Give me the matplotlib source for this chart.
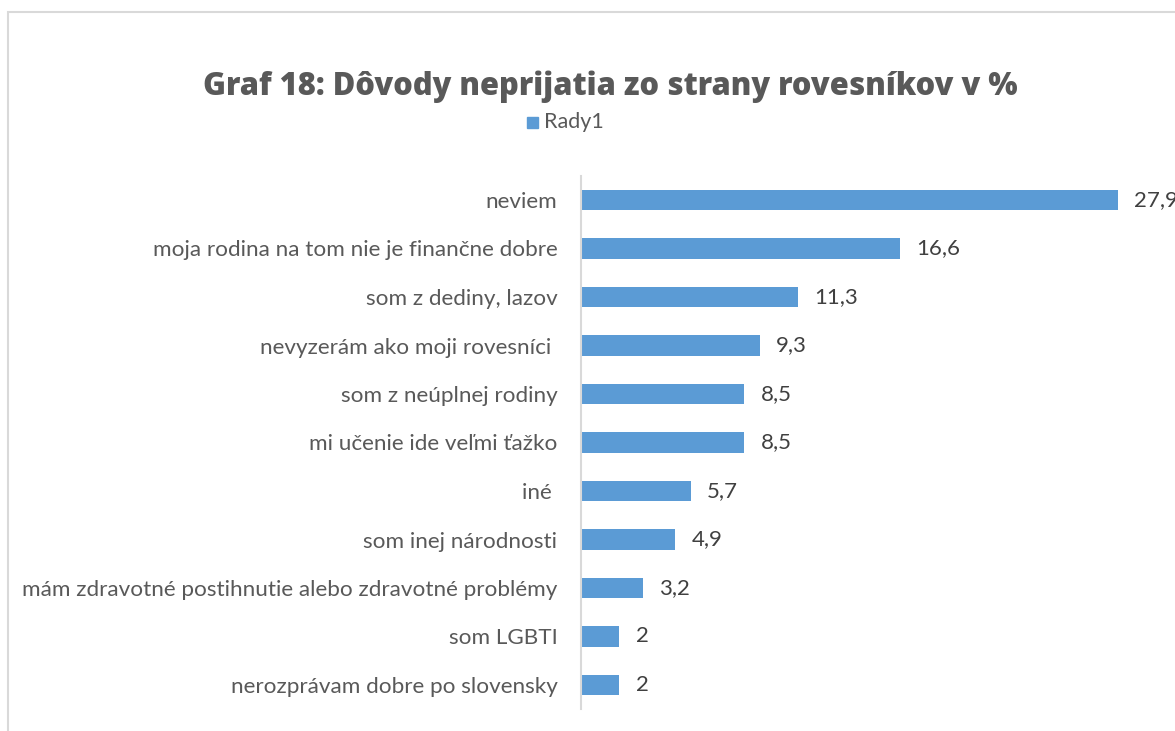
import matplotlib
matplotlib.use("Agg")
import matplotlib.pyplot as plt
from matplotlib.patches import Rectangle

# data (top to bottom as shown)
categories = [
    "neviem",
    "moja rodina na tom nie je finančne dobre",
    "som z dediny, lazov",
    "nevyzerám ako moji rovesníci ",
    "som z neúplnej rodiny",
    "mi učenie ide veľmi ťažko",
    "iné ",
    "som inej národnosti",
    "mám zdravotné postihnutie alebo zdravotné problémy",
    "som LGBTI",
    "nerozprávam dobre po slovensky",
]
values = [27.9, 16.6, 11.3, 9.3, 8.5, 8.5, 5.7, 4.9, 3.2, 2, 2]
series_name = "Rady1"

bar_color = "#5B9BD5"
label_font = ["Lato", "DejaVu Sans"]

fig = plt.figure(figsize=(11.75, 7.31), dpi=100)

# light chart border (cropped on right and bottom)
fig.patches.append(Rectangle((8 / 1175, -0.1), 1.2, 1 - 12 / 731 + 0.1,
                             transform=fig.transFigure, fill=False,
                             edgecolor="#d9d9d9", linewidth=1.5))

ax = fig.add_axes([581 / 1175, 1 - 709.25 / 731, 577 / 1175, 533.5 / 731])
y = list(range(len(categories)))
ax.barh(y, values, height=0.42, color=bar_color)
ax.set_ylim(len(categories) - 0.5, -0.5)
ax.set_xlim(0, 30)

ax.set_yticks(y)
ax.set_yticklabels(categories, family=label_font, fontsize=16.2, color="#595959")
ax.tick_params(axis="y", length=0, pad=17)
ax.set_xticks([])
for s in ["top", "right", "bottom"]:
    ax.spines[s].set_visible(False)
ax.spines["left"].set_color("#d9d9d9")
ax.spines["left"].set_linewidth(1.5)

# value labels (the largest one runs off the right edge, as in the original)
for yi, v in zip(y, values):
    ax.text(v + 0.85, yi, str(v).replace(".", ","), va="center", ha="left",
            family=label_font, fontsize=16, color="#404040", clip_on=False)

fig.text(0.519, 0.882, "Graf 18: Dôvody neprijatia zo strany rovesníkov v %",
         ha="center", va="center", fontsize=22.2, fontweight=800,
         family=["Open Sans", "DejaVu Sans"], color="#595959")

# legend
fig.patches.append(Rectangle((527 / 1175, 1 - 128 / 731), 11 / 1175, 11 / 731,
                             transform=fig.transFigure, color=bar_color))
fig.text(544 / 1175, 1 - 122 / 731, series_name, ha="left", va="center",
         family=label_font, fontsize=15.5, color="#595959")

fig.savefig("out.png", dpi=100)
